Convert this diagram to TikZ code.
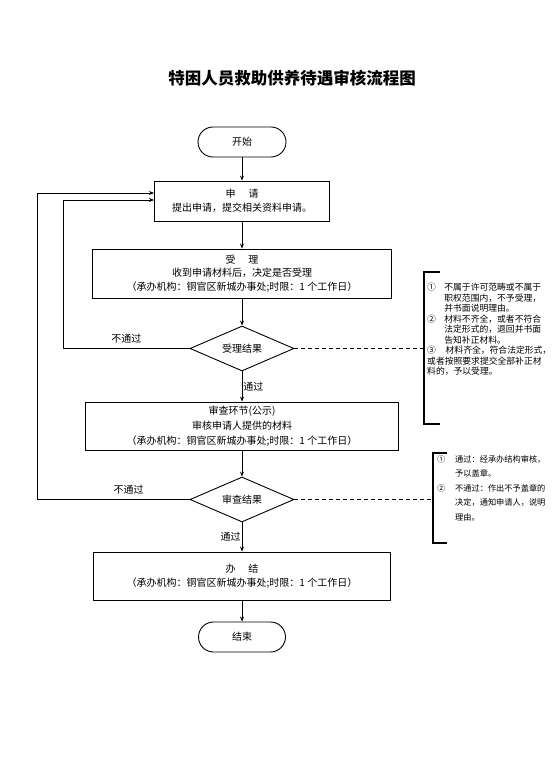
\documentclass[tikz,border=0pt]{standalone}
\usepackage{fontspec}
\setmainfont{Noto Sans CJK SC}
\usepackage{tikz}
\usetikzlibrary{arrows.meta,positioning,shapes.geometric,calc}

\begin{document}
\begin{tikzpicture}[
    x=1pt, y=-1pt,
    font=\fontsize{10}{13.5}\selectfont,
    every node/.style = {align=center},
    term/.style   = {draw, rectangle, rounded corners=15pt, minimum width=88pt,
                     minimum height=30pt, line width=0.9pt, inner sep=0pt},
    proc/.style   = {draw, rectangle, minimum height=48pt, line width=0.9pt,
                     inner sep=2pt},
    check/.style  = {draw, diamond, aspect=2.3, minimum width=104pt,
                     minimum height=45pt, line width=0.9pt, inner sep=0pt},
    arr/.style    = {-{Stealth[length=5pt,width=4pt]}, line width=0.9pt},
    link/.style   = {dashed, dash pattern=on 4pt off 3pt, line width=0.8pt},
    brace/.style  = {line width=1.4pt},
    note/.style   = {align=left, inner sep=0pt, anchor=north west},
    lbl/.style    = {inner sep=1pt},
]
\useasboundingbox (0,0) rectangle (554,783);

% ---------------- Title ----------------
\node[font=\fontsize{16.5}{18}\selectfont\bfseries] (title) at (292,78)
    {特困人员救助供养待遇审核流程图};

% ---------------- Main flow ----------------
\node[term] (start) at (242,142) {开始};
\node[proc, minimum width=175pt, minimum height=40pt] (apply) at (242,201)
    {申\hspace{1.3em}请\\提出申请，提交相关资料申请。};
\node[proc, minimum width=299pt, minimum height=49pt] (accept) at (242,273.5)
    {受\hspace{1.3em}理\\收到申请材料后，决定是否受理\\（承办机构：铜官区新城办事处;时限：1 个工作日）};
\node[check] (res1) at (242,348.5) {受理结果};
\node[proc, minimum width=313pt, font=\fontsize{10}{15}\selectfont] (review) at (242,426)
    {审查环节(公示)\\审核申请人提供的材料\\（承办机构：铜官区新城办事处;时限：1 个工作日）};
\node[check] (res2) at (242,499.5) {审查结果};
\node[proc, minimum width=297pt] (done) at (242,576)
    {办\hspace{1.3em}结\\（承办机构：铜官区新城办事处;时限：1 个工作日）};
\node[term, minimum width=87pt] (stop) at (242,637) {结束};

% ---------------- Notes ----------------
\coordinate (br1) at (424,348.5);
\coordinate (br2) at (433,499.5);

\node[note, font=\fontsize{8.8}{10.5}\selectfont] (note1) at (427,283)
    {\makebox[1.95em][l]{①}不属于许可范畴或不属于\\
     \hspace*{1.95em}职权范围内，不予受理，\\
     \hspace*{1.95em}并书面说明理由。\\
     \makebox[1.95em][l]{②}材料不齐全，或者不符合\\
     \hspace*{1.95em}法定形式的，退回并书面\\
     \hspace*{1.95em}告知补正材料。\\
     \makebox[2.1em][l]{③}材料齐全，符合法定形式，\\
     或者按照要求提交全部补正材\\
     料的，予以受理。};

\node[note, font=\fontsize{8.2}{14.6}\selectfont] (note2) at (437,455)
    {\makebox[2.2em][l]{①}通过：经承办结构审核，\\
     \hspace*{2.2em}予以盖章。\\
     \makebox[2.2em][l]{②}不通过：作出不予盖章的\\
     \hspace*{2.2em}决定，通知申请人，说明\\
     \hspace*{2.2em}理由。};

\draw[brace] ($(br1)+(16,-76.5)$) -- ++(-16,0) -- ++(0,152) -- ++(16,0);
\draw[brace] ($(br2)+(14,-46.5)$) -- ++(-14,0) -- ++(0,90) -- ++(14,0);

% ---------------- Arrows ----------------
\coordinate (k1) at (63,200);
\coordinate (k2) at (37,193);

\draw[arr] (start) -- (apply);
\draw[arr] (apply) -- (accept);
\draw[arr] (accept) -- (res1);
\draw[arr] (res1) -- node[lbl, right]{通过} (review);
\draw[arr] (review) -- (res2);
\draw[arr] (res2) -- node[lbl, left]{通过} (done);
\draw[arr] (done) -- (stop);

\draw[arr] (res1.west) -- node[lbl, above=4pt]{不通过} (res1.west -| k1)
    -- (k1) -- (k1 -| apply.west);
\draw[arr] (res2.west) -- node[lbl, above=4pt, pos=0.4]{不通过} (res2.west -| k2)
    -- (k2) -- (k2 -| apply.west);

\draw[link] (res1.east) -- (br1);
\draw[link] (res2.east) -- (br2);

\end{tikzpicture}
\end{document}
